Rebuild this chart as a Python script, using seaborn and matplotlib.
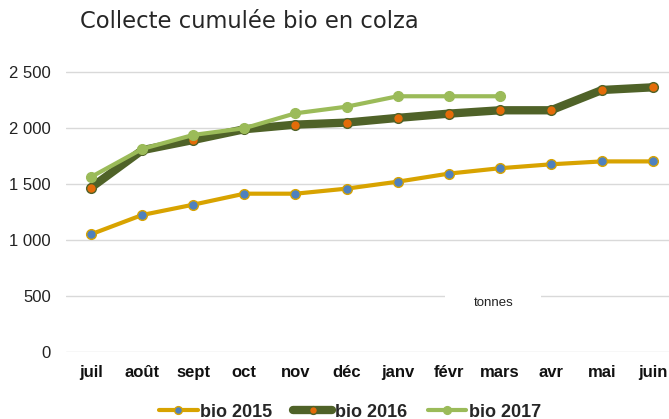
import numpy as np
import pandas as pd
import matplotlib
matplotlib.use("Agg")
import matplotlib.pyplot as plt
import seaborn as sns

# données (tonnes cumulées)
mois = ["juil", "août", "sept", "oct", "nov", "déc", "janv", "févr", "mars", "avr", "mai", "juin"]
bio_2015 = [1050, 1222, 1314, 1412, 1412, 1457, 1519, 1591, 1639, 1674, 1700, 1700]
bio_2016 = [1466, 1800, 1891, 1987, 2028, 2046, 2088, 2126, 2156, 2156, 2337, 2361]
bio_2017 = [1561, 1811, 1936, 1996, 2129, 2188, 2281, 2281, 2281, np.nan, np.nan, np.nan]
yticks = [0, 500, 1000, 1500, 2000, 2500]

sns.set_theme(style="white")
plt.rcParams["font.family"] = ["Liberation Sans", "DejaVu Sans"]

df = pd.DataFrame({"mois": mois, "bio 2015": bio_2015, "bio 2016": bio_2016, "bio 2017": bio_2017})
df["i"] = range(len(mois))

fig = plt.figure(figsize=(6.69, 4.19), dpi=100)
ax = fig.add_axes([66 / 669, 1 - 352 / 419, 1 - 66 / 669, (352 - 60.5) / 419])

styles = {
    "bio 2015": dict(color="#D8A300", lw=3, mfc="#4F81BD", mec="#D8A300"),
    "bio 2016": dict(color="#4F6228", lw=6, mfc="#E36C09", mec="#4F6228"),
    "bio 2017": dict(color="#9BBB59", lw=3, mfc="#9BBB59", mec="#9BBB59"),
}
for serie, st in styles.items():
    d = df.dropna(subset=[serie])
    sns.lineplot(data=d, x="i", y=serie, ax=ax, color=st["color"], linewidth=st["lw"],
                 marker="o", markersize=7, markerfacecolor=st["mfc"],
                 markeredgecolor=st["mec"], markeredgewidth=1, label=serie, sort=False,
                 solid_capstyle="round", solid_joinstyle="round")

ax.set_xlim(-0.49, 11.31)
ax.set_ylim(0, 2600)
ax.set_yticks(yticks)
ax.set_yticklabels([f"{v:,}".replace(",", " ") for v in yticks], fontsize=12, color="#222222")
ax.set_xticks(range(len(mois)))
ax.set_xticklabels(mois, fontsize=12, fontweight="bold", color="#111111")
ax.tick_params(axis="y", length=0, pad=11)
ax.tick_params(axis="x", length=0, pad=9)
ax.yaxis.grid(True, color="#D9D9D9", linewidth=1)
ax.set_axisbelow(True)
for s in ax.spines.values():
    s.set_visible(False)
ax.set_xlabel("")
ax.set_ylabel("")

ax.text(7.87, 440, "tonnes", fontsize=9.5, ha="center", va="center", color="#222222",
        bbox=dict(facecolor="white", edgecolor="none", pad=20))

fig.text(80 / 669, 1 - 28 / 419, "Collecte cumulée bio en colza", fontsize=16.3,
         ha="left", va="baseline", color="#262626", family=["DejaVu Sans"])

leg = ax.legend(loc="center", bbox_to_anchor=((350 - 66) / (669 - 66), -(412 - 352) / (352 - 60.5)),
                ncol=3, frameon=False, handlelength=2.15, handletextpad=0.15, columnspacing=1.15,
                markerscale=0.8, prop=dict(weight="bold", size=13))

fig.savefig("out.png", dpi=100)
